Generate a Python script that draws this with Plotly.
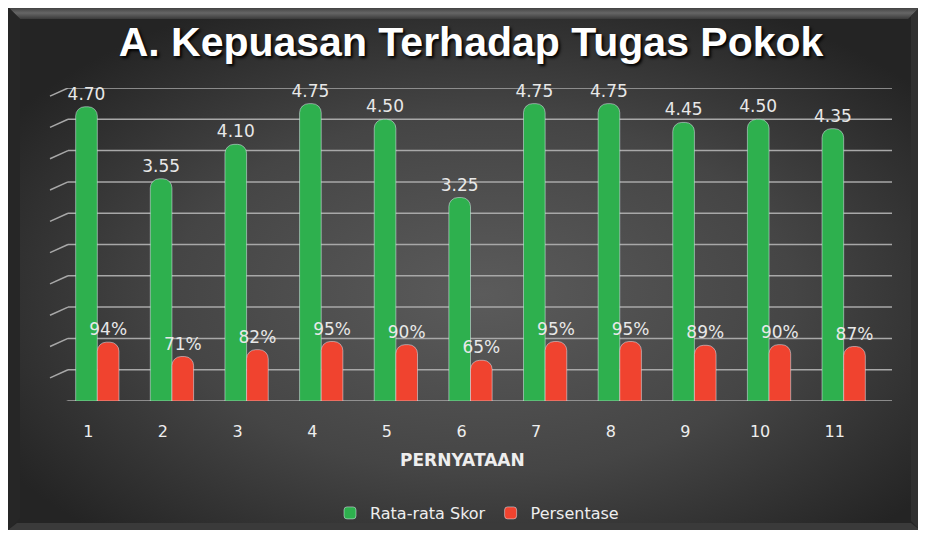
import base64
import plotly.graph_objects as go

# data
pernyataan = ['1', '2', '3', '4', '5', '6', '7', '8', '9', '10', '11']
rata_rata_skor = [4.70, 3.55, 4.10, 4.75, 4.50, 3.25, 4.75, 4.75, 4.45, 4.50, 4.35]
persentase = [0.94, 0.71, 0.82, 0.95, 0.90, 0.65, 0.95, 0.95, 0.89, 0.90, 0.87]
grid_values = [0, 0.5, 1, 1.5, 2, 2.5, 3, 3.5, 4, 4.5, 5]

# the page body adds an 8px margin, so work in screen pixels and shift
OFF = 8
W, H = 926, 535
ML, MR, MT, MB = 60 - OFF, 45 + OFF, 88 - OFF, 134 + OFF
PW = W - ML - MR
PH = H - MT - MB
LABEL_FONT = 'DejaVu Sans, Verdana, sans-serif'


def px_x(px):
    return (px - OFF - ML) / PW


def px_y(py):
    return (H - MB - (py - OFF)) / PH


# dark panel with radial gradient and bevelled edge
svg = """<svg xmlns='http://www.w3.org/2000/svg' width='912' height='523' viewBox='0 0 912 523' preserveAspectRatio='none'>
<defs>
<radialGradient id='g' cx='52%' cy='55%' r='62%'>
<stop offset='0' stop-color='#5b5b5b'/><stop offset='0.55' stop-color='#454545'/><stop offset='1' stop-color='#242424'/>
</radialGradient>
<linearGradient id='t' x1='0' y1='0' x2='0' y2='1'>
<stop offset='0' stop-color='#3c3c3c'/><stop offset='0.5' stop-color='#666666'/><stop offset='1' stop-color='#3a3a3a'/>
</linearGradient>
</defs>
<rect width='912' height='523' fill='url(#g)'/>
<polygon points='0,0 912,0 900,12 12,12' fill='url(#t)'/>
<polygon points='0,0 12,12 12,511 0,523' fill='#262626'/>
<polygon points='912,0 912,523 903,514 903,9' fill='#303030'/>
<polygon points='0,523 912,523 903,516 9,516' fill='#3a3a3a'/>
</svg>"""
svg_uri = 'data:image/svg+xml;base64,' + base64.b64encode(svg.encode()).decode()

fig = go.Figure()
fig.add_trace(go.Bar(
    x=pernyataan,
    y=rata_rata_skor,
    name='Rata-rata Skor',
    marker=dict(color='#2eb04e'),
    texttemplate='%{y:.2f}',
    textposition='outside',
    constraintext='none',
    textfont=dict(family=LABEL_FONT, color='#e8e8e8', size=17),
    cliponaxis=False
))
fig.add_trace(go.Bar(
    x=pernyataan,
    y=persentase,
    name='Persentase',
    marker=dict(color='#f0432f'),
    texttemplate='%{y:.0%}',
    textposition='outside',
    constraintext='none',
    textfont=dict(family=LABEL_FONT, color='#e8e8e8', size=17),
    cliponaxis=False
))

shapes = []
for g in grid_values:
    shapes.append(dict(type='line', xref='paper', yref='y', layer='below',
                       x0=px_x(68), x1=px_x(892), y0=g, y1=g,
                       line=dict(color='#a8a8a8', width=1.5)))
    shapes.append(dict(type='line', xref='paper', yref='y', layer='below',
                       x0=px_x(50), x1=px_x(68), y0=g - 0.13, y1=g,
                       line=dict(color='#a8a8a8', width=1.5)))

fig.update_layout(
    width=W, height=H,
    margin=dict(l=ML, r=MR, t=MT, b=MB),
    paper_bgcolor='white',
    plot_bgcolor='rgba(0,0,0,0)',
    font=dict(family='Liberation Sans, Arial, sans-serif', color='#eeeeee'),
    title=dict(
        text='A. Kepuasan Terhadap Tugas Pokok',
        x=px_x(471), xanchor='center',
        xref='paper',
        y=1 - (42 - OFF) / H, yanchor='middle', yref='container',
        font=dict(size=41, color='white', weight='bold', shadow='2px 2px 3px #000000')
    ),
    barmode='group',
    bargap=0.42,
    bargroupgap=0,
    barcornerradius=9,
    xaxis=dict(
        showgrid=False, showline=False, zeroline=False,
        ticks='outside', ticklen=16, tickcolor='rgba(0,0,0,0)',
        ticklabelshift=-9,
        tickfont=dict(family=LABEL_FONT, size=16, color='#eeeeee')
    ),
    yaxis=dict(
        range=[0, 5], showgrid=False, zeroline=False,
        showticklabels=False, showline=False
    ),
    shapes=shapes,
    images=[dict(source=svg_uri, xref='paper', yref='paper',
                 x=px_x(8), y=px_y(7), sizex=(920 - 8) / PW, sizey=(530 - 7) / PH,
                 xanchor='left', yanchor='top', sizing='stretch', layer='below')],
    annotations=[dict(text='<b>PERNYATAAN</b>', xref='paper', yref='paper',
                      x=px_x(462), y=px_y(460), xanchor='center', yanchor='middle',
                      showarrow=False,
                      font=dict(family=LABEL_FONT, size=17, color='#eeeeee'))],
    showlegend=True,
    legend=dict(
        orientation='h',
        x=px_x(477), xanchor='center',
        y=1 - (513 - OFF) / H, yanchor='middle', yref='container',
        font=dict(family=LABEL_FONT, size=16, color='#eeeeee'),
        itemwidth=30,
        bgcolor='rgba(0,0,0,0)'
    )
)

fig.write_html('out.html')
